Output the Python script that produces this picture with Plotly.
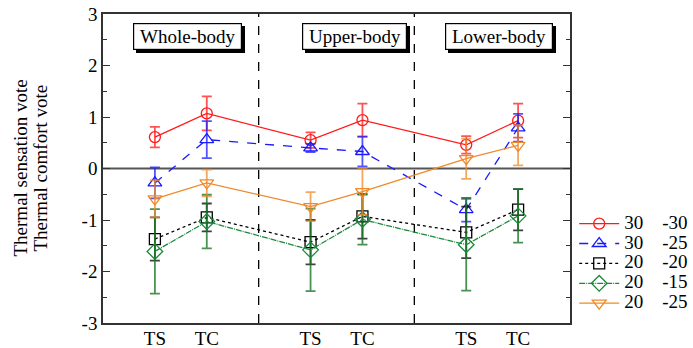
import plotly.graph_objects as go

# Categories and positions
x_pos = [1, 2, 4, 5, 7, 8]
x_labels = ["TS", "TC", "TS", "TC", "TS", "TC"]
y_ticks = [-3, -2, -1, 0, 1, 2, 3]
y_tick_labels = ["-3", "-2", "-1", "0", "1", "2", "3"]
section_names = ["Whole-body", "Upper-body", "Lower-body"]
divider_pos = [3, 6]

SP = "\u00a0" * 4
series_names = ["30" + SP + "-30", "30" + SP + "-25", "20" + SP + "-20", "20" + SP + "-15", "20" + SP + "-25"]

s1_mean = [0.61, 1.07, 0.55, 0.94, 0.46, 0.93]
s1_err = [0.20, 0.33, 0.15, 0.32, 0.17, 0.33]
s2_mean = [-0.28, 0.56, 0.40, 0.33, -0.80, 0.79]
s2_err = [0.30, 0.36, 0.08, 0.29, 0.23, 0.27]
s3_mean = [-1.37, -0.95, -1.43, -0.93, -1.24, -0.80]
s3_err = [0.42, 0.27, 0.43, 0.43, 0.50, 0.40]
s4_mean = [-1.61, -1.03, -1.58, -0.99, -1.48, -0.92]
s4_err = [0.82, 0.52, 0.80, 0.49, 0.89, 0.52]
s5_mean = [-0.59, -0.28, -0.74, -0.45, 0.19, 0.45]
s5_err = [0.36, 0.26, 0.28, 0.45, 0.39, 0.39]

means = [s1_mean, s2_mean, s3_mean, s4_mean, s5_mean]
errs = [s1_err, s2_err, s3_err, s4_err, s5_err]

colors = ["#ff1a1a", "#1a1aff", "#000000", "#1a8a3a", "#f0892a"]
err_colors = ["rgba(255,26,26,0.75)", "rgba(26,26,255,0.75)", "rgba(0,0,0,0.75)",
              "rgba(26,120,40,0.8)", "rgba(240,137,42,0.75)"]
dashes = ["solid", "dash", "dot", "6px,1px,1px,1px", "solid"]
symbols = ["circle-open", "triangle-up-open", "square-open", "diamond-open", "triangle-down-open"]
sizes = [11, 12, 11, 12, 12]

FONT = "Liberation Serif"
FS = 19

fig = go.Figure()
for i in range(5):
    fig.add_trace(go.Scatter(
        x=x_pos, y=means[i],
        name='<span style="font-size:%dpx">%s</span>' % (FS, series_names[i]),
        mode="lines+markers",
        line=dict(color=colors[i], width=1.3, dash=dashes[i]),
        marker=dict(symbol=symbols[i], size=sizes[i], color=colors[i],
                    line=dict(width=1.3, color=colors[i])),
        error_y=dict(type="data", array=errs[i], visible=True,
                     color=err_colors[i], thickness=1.8, width=5),
    ))

shapes = []
for d in divider_pos:
    shapes.append(dict(type="line", xref="x", yref="paper", x0=d, x1=d, y0=0, y1=1,
                       line=dict(color="black", width=1.3, dash="dash"), layer="below"))
shapes.append(dict(type="line", xref="paper", yref="y", x0=0, x1=1, y0=0, y1=0,
                   line=dict(color="#555555", width=2), layer="below"))

# section label boxes (pixel-measured placement, paper coords)
box_cx = [(187 - 103) / 467, (354 - 103) / 467, (499 - 103) / 467]
box_cy = (323 - 36) / 309
annotations = []
for name, cx in zip(section_names, box_cx):
    txt = "\u2009" + name + "\u2009"
    annotations.append(dict(x=cx, y=box_cy, xref="paper", yref="paper", text=txt, showarrow=False,
                            xanchor="center", yanchor="middle",
                            font=dict(family=FONT, size=FS, color="black"),
                            bgcolor="black", bordercolor="black", borderwidth=1.2, borderpad=2,
                            xshift=3, yshift=-3))
    annotations.append(dict(x=cx, y=box_cy, xref="paper", yref="paper", text=txt, showarrow=False,
                            xanchor="center", yanchor="middle",
                            font=dict(family=FONT, size=FS, color="black"),
                            bgcolor="white", bordercolor="black", borderwidth=1.2, borderpad=2))

# y-axis title as two rotated lines
for text, xs in [("Thermal sensation vote", -83), ("Thermal comfort vote", -63)]:
    annotations.append(dict(x=0, y=0.5, xref="paper", yref="paper", text=text, showarrow=False,
                            textangle=-90, xanchor="center", yanchor="middle", xshift=xs,
                            font=dict(family=FONT, size=FS, color="black")))

fig.update_layout(
    width=693, height=348,
    margin=dict(l=103, r=123, t=14, b=25, autoexpand=False),
    paper_bgcolor="white", plot_bgcolor="white",
    font=dict(family=FONT, size=FS, color="black"),
    shapes=shapes, annotations=annotations,
    legend=dict(x=1.009, y=0.37, xanchor="left", yanchor="top",
                font=dict(family=FONT, size=13), itemwidth=40,
                bgcolor="rgba(0,0,0,0)", tracegroupgap=0),
    showlegend=True,
)
fig.update_xaxes(range=[0, 9], tickvals=x_pos, ticktext=x_labels, showgrid=False,
                 zeroline=False, showline=True, linecolor="#333333", linewidth=1.5,
                 mirror=True, ticks="", ticklabelstandoff=-3, tickfont=dict(family=FONT, size=FS))
fig.update_yaxes(range=[-3, 3], tickvals=y_ticks, ticktext=y_tick_labels, showgrid=False, zeroline=False,
                 showline=True, linecolor="#333333", linewidth=1.5, mirror="allticks",
                 ticks="inside", ticklen=7, tickcolor="#333333", tickwidth=1.2,
                 minor=dict(dtick=0.5, ticks="inside", ticklen=4, tickcolor="#333333", tickwidth=1.2),
                 tickfont=dict(family=FONT, size=FS))

fig.write_html("out.html", config={"displayModeBar": False},
               post_script="document.body.style.margin='0';document.body.style.padding='0';")
